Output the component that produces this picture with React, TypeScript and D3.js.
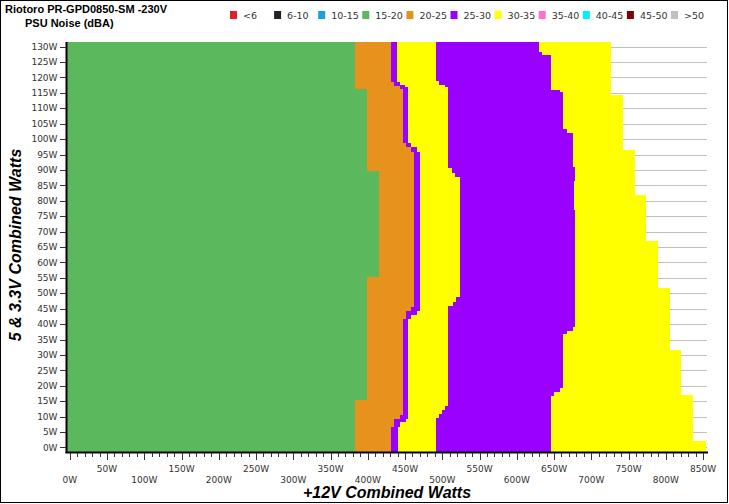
import React, { useEffect } from 'react';
import * as d3 from 'd3';

// ---------- data ----------
const chartTitle = 'Riotoro PR-GPD0850-SM -230V';
const chartSubtitle = 'PSU Noise (dBA)';
const xAxisTitle = '+12V Combined Watts';
const yAxisTitle = '5 & 3.3V Combined Watts';

const categories = ['<6', '6-10', '10-15', '15-20', '20-25', '25-30', '30-35', '35-40', '40-45', '45-50', '>50'];
const categoryColors = ['#E0202A', '#222222', '#1BA1D8', '#5CB85C', '#E8921E', '#9900FF', '#FFFF00', '#FF6FCF', '#00F0FF', '#800000', '#C0C0C0'];

const yTickValues = d3.range(0, 131, 5);
const xMajorTicks = d3.range(0, 851, 50);
const xMinorTicks = d3.range(0, 851, 10);

// Each edge: [from 5V&3.3V watts, +12V watts where the next band begins]
const greenOrangeEdge: [number, number][] = [[-1.46, 383], [15.4, 399], [55.3, 415], [89.7, 399], [116.3, 383]];
const orangePurpleEdge: [number, number][] = [[-1.46, 431], [6.7, 435], [9.2, 443], [10.5, 447], [41.7, 451], [44.4, 458], [45.7, 462], [95.9, 458], [97.4, 451], [98.7, 447], [116.3, 443], [117.2, 435], [118.5, 431]];
const purpleYellowEdge: [number, number][] = [[-1.46, 440], [6.7, 443], [8.4, 451], [9.2, 454], [41.7, 458], [43, 466], [44.4, 470], [95.9, 466], [97.4, 458], [98.7, 454], [116.8, 450], [117.6, 443], [118.5, 439]];
const yellowPurpleEdge: [number, number][] = [[-1.46, 492], [9.5, 495], [10.9, 499], [12.2, 504], [13.6, 508], [46, 515], [47.3, 519], [48.7, 524], [87.8, 517], [89.1, 513], [90.6, 508], [116.8, 504], [117.6, 495], [118.7, 492]];
const purpleYellowEdge2: [number, number][] = [[-1.46, 646], [16.8, 650], [18.1, 658], [19.4, 662], [36.7, 667], [37.9, 675], [39.2, 678], [77, 677], [86.5, 678], [91.1, 676], [101.9, 667], [103.3, 662], [115.2, 658], [116, 646], [127.3, 634], [128.4, 630]];
const loadLimitEdge: [number, number][] = [[-1.46, 854], [1.9, 837], [16.8, 821], [31.6, 806], [51.6, 790], [66.8, 774], [81.7, 759], [96.5, 742], [114.1, 726]];

const bandEdges = [greenOrangeEdge, orangePurpleEdge, purpleYellowEdge, yellowPurpleEdge, purpleYellowEdge2, loadLimitEdge];
const bandCategories = ['15-20', '20-25', '25-30', '30-35', '25-30', '30-35'];

// ---------- layout ----------
const W = 729;
const H = 504;
const plot = { left: 67, right: 707, top: 42, bottom: 452 };
const X_DOMAIN: [number, number] = [-3.7, 855.3];
const Y_DOMAIN: [number, number] = [-1.46, 131.5];

const tickFont = '"DejaVu Sans", Verdana, sans-serif';
const arial = '"Liberation Sans", Arial, sans-serif';

function valueAt(edge: [number, number][], y: number) {
  let v = edge[0][1];
  for (const [from, x] of edge) if (from <= y + 1e-9) v = x;
  return v;
}

export default function App() {
  useEffect(() => {
    document.body.style.margin = '0';
  }, []);

  const x = d3.scaleLinear().domain(X_DOMAIN).range([plot.left, plot.right]);
  const y = d3.scaleLinear().domain(Y_DOMAIN).range([plot.bottom, plot.top]);
  const color = d3.scaleOrdinal<string, string>().domain(categories).range(categoryColors);

  const breaks = Array.from(new Set(bandEdges.flatMap((e) => e.map((d) => d[0])))).sort((a, b) => a - b);
  breaks.push(Y_DOMAIN[1]);

  const rects: JSX.Element[] = [];
  for (let i = 0; i < breaks.length - 1; i++) {
    const y0 = breaks[i];
    const y1 = breaks[i + 1];
    const top = y(y1);
    const bottom = y(y0);
    for (let j = bandEdges.length - 1; j >= 0; j--) {
      const xr = valueAt(bandEdges[j], y0);
      rects.push(
        <rect
          key={`r${i}-${j}`}
          x={x(X_DOMAIN[0])}
          y={top - (i < breaks.length - 2 ? 0.3 : 0)}
          width={x(xr) - x(X_DOMAIN[0])}
          height={bottom - top + (i < breaks.length - 2 ? 0.3 : 0)}
          fill={color(bandCategories[j])}
        />
      );
    }
  }

  return (
    <svg width={W} height={H} style={{ position: 'absolute', left: 0, top: 0, display: 'block' }}>
      <rect x={0} y={0} width={W} height={H} fill="#ffffff" />
      <rect x={0.5} y={0.5} width={W - 2} height={H - 2} fill="none" stroke="#000" strokeWidth={1} />

      {/* title */}
      <text x={5} y={13} fontFamily={arial} fontWeight="bold" fontSize={11} fill="#000">{chartTitle}</text>
      <text x={25} y={27} fontFamily={arial} fontWeight="bold" fontSize={11} fill="#000">{chartSubtitle}</text>

      {/* legend */}
      {categories.map((c, i) => (
        <g key={c} transform={`translate(${230 + i * 44.1},0)`}>
          <rect x={0} y={11} width={7} height={8} fill={color(c)} />
          <text x={13} y={18.5} fontFamily={tickFont} fontSize={9.5} fill="#333">{c}</text>
        </g>
      ))}

      {/* gridlines */}
      {yTickValues.map((t) => (
        <line key={`g${t}`} x1={plot.left} x2={plot.right} y1={Math.round(y(t)) + 0.5} y2={Math.round(y(t)) + 0.5} stroke="#C0C0C0" strokeWidth={1} />
      ))}

      {/* heatmap */}
      <g shapeRendering="crispEdges">{rects}</g>

      {/* axes */}
      <line x1={plot.left - 0.5} x2={plot.left - 0.5} y1={plot.top} y2={plot.bottom + 1} stroke="#000" strokeWidth={2} />
      <line x1={plot.left - 1.5} x2={plot.right + 1} y1={plot.bottom + 0.5} y2={plot.bottom + 0.5} stroke="#000" strokeWidth={2} />

      {yTickValues.map((t) => (
        <g key={`yt${t}`}>
          <line x1={60} x2={plot.left - 1} y1={Math.round(y(t)) + 0.5} y2={Math.round(y(t)) + 0.5} stroke="#333" strokeWidth={1} />
          <text x={57.5} y={y(t)} dy="0.35em" textAnchor="end" fontFamily={tickFont} fontSize={9} fill="#333">{`${t}W`}</text>
        </g>
      ))}

      {xMinorTicks.map((t) => (
        <line key={`xm${t}`} x1={Math.round(x(t)) + 0.5} x2={Math.round(x(t)) + 0.5} y1={plot.bottom + 1} y2={plot.bottom + (t % 50 === 0 ? 8 : 5)} stroke="#333" strokeWidth={1} />
      ))}
      {xMajorTicks.map((t) => (
        <text
          key={`xl${t}`}
          x={x(t)}
          y={t % 100 === 0 ? 482.5 : 472}
          textAnchor="middle"
          fontFamily={tickFont}
          fontSize={9}
          fill="#333"
        >{`${t}W`}</text>
      ))}

      {/* axis titles */}
      <text x={387} y={498} textAnchor="middle" fontFamily={arial} fontWeight="bold" fontStyle="italic" fontSize={16} fill="#000">{xAxisTitle}</text>
      <text transform="translate(20.5,245) rotate(-90)" textAnchor="middle" fontFamily={arial} fontWeight="bold" fontStyle="italic" fontSize={16} fill="#000">{yAxisTitle}</text>
    </svg>
  );
}
